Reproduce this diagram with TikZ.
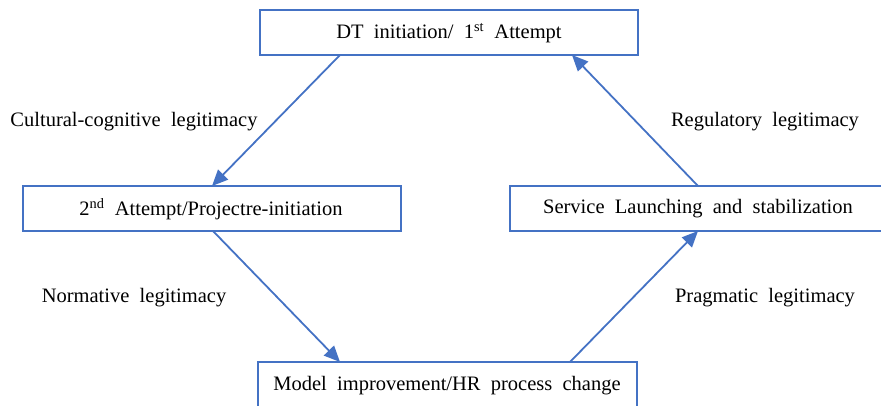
\documentclass[tikz,border=0pt]{standalone}
\usepackage{fontspec}
\setmainfont{Liberation Serif}
\usetikzlibrary{arrows.meta}
\definecolor{obl}{HTML}{4472C4}
\tikzset{
  boxst/.style={draw=obl, line width=1.7pt, fill=white, inner sep=0pt},
  arr/.style={draw=obl, line width=1.8pt, -{Triangle[length=16pt,width=14pt]}},
  lab/.style={font=\fontsize{20.5}{24}\selectfont, inner sep=0pt},
  btxt/.style={font=\fontsize{20.5}{24}\selectfont, inner sep=0pt}
}
\begin{document}
\begin{tikzpicture}[x=1pt,y=-1pt]
\useasboundingbox (0,0) rectangle (881,406);
\clip (0,0) rectangle (881,406);
% boxes
\draw[boxst] (260,10) rectangle (638,55);
\draw[boxst] (23,186) rectangle (401,231);
\draw[boxst] (510,186) rectangle (887,231);
\draw[boxst] (258,362) rectangle (637,412);
\node[btxt] (t) at (449,33) {DT\ \ initiation/\ \ 1\textsuperscript{st}\ \ Attempt};
\node[btxt] (l) at (211,209) {2\textsuperscript{nd}\ \ Attempt/Projectre-initiation};
\node[btxt] (r) at (698,209) {Service\ \ Launching\ \ and\ \ stabilization};
\node[btxt] (b) at (447,386) {Model\ \ improvement/HR\ \ process\ \ change};
% anchor coordinates
\coordinate (t1) at (340,55);
\coordinate (t2) at (572,55);
\coordinate (l1) at (212,186);
\coordinate (l2) at (213,231);
\coordinate (r1) at (698,186);
\coordinate (r2) at (698,231);
\coordinate (b1) at (340,362);
\coordinate (b2) at (570,362);
\draw[arr] (t1) -- (l1);
\draw[arr] (l2) -- (b1);
\draw[arr] (b2) -- (r2);
\draw[arr] (r1) -- (t2);
% labels
\node[lab] (la) at (134,122) {Cultural-cognitive\ \ legitimacy};
\node[lab] (lb) at (765,122) {Regulatory\ \ legitimacy};
\node[lab] (lc) at (134,298) {Normative\ \ legitimacy};
\node[lab] (ld) at (765,298) {Pragmatic\ \ legitimacy};
\end{tikzpicture}
\end{document}
